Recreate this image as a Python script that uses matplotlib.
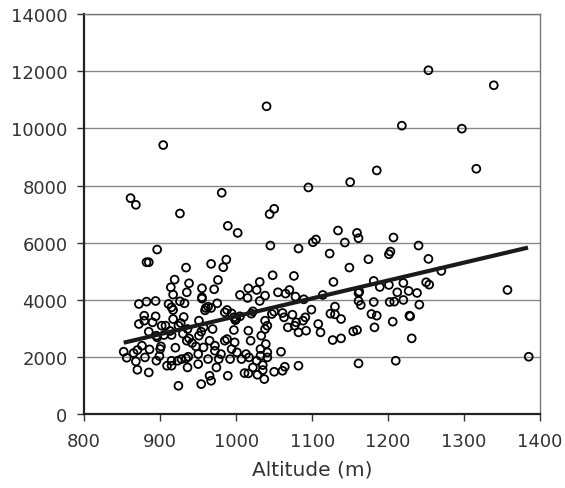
import matplotlib
matplotlib.use('Agg')
import matplotlib.pyplot as plt

# Altitude (m) of each sampled site
altitude = [
    1253, 1339, 1040, 1218, 1297, 904, 1185, 1316, 1150, 1095,
    981, 861, 868, 1050, 1044, 926, 989, 1002, 1134, 1159,
    1161, 1207, 1105, 1101, 1143, 1045, 1240, 896, 1082, 1203,
    1201, 1123, 1174, 1253, 882, 885, 987, 967, 983, 934,
    1149, 1270, 1048, 1076, 1181, 1128, 1031, 976, 919, 938,
    1220, 1250, 1254, 1189, 1201, 914, 955, 971, 1016, 1027,
    1070, 1357, 935, 917, 1005, 1038, 1055, 1065, 1114, 1161,
    1162, 1212, 1227, 1238, 1015, 1078, 1089, 955, 872, 882,
    894, 911, 926, 932, 955, 975, 1031, 1161, 1164, 1181,
    1202, 1208, 1220, 1241, 1130, 915, 917, 960, 963, 967,
    959, 988, 985, 994, 997, 999, 1005, 1020, 1022, 1074,
    1099, 1091, 1124, 1130, 1138, 1178, 1185, 1228, 879, 872,
    879, 894, 890, 902, 907, 917, 931, 927, 924, 936,
    951, 1047, 1050, 1038, 1041, 1038, 1061, 1063, 1068, 1077,
    1079, 1088, 1092, 1082, 1108, 1111, 1127, 1138, 1154, 1159,
    1182, 1206, 1229, 1231, 885, 895, 896, 905, 913, 915,
    930, 935, 938, 942, 951, 954, 965, 972, 985, 988,
    998, 997, 1019, 1033, 1039, 1032, 852, 856, 865, 870,
    876, 868, 870, 880, 886, 885, 895, 901, 899, 909,
    915, 915, 920, 923, 928, 934, 936, 937, 924, 947,
    950, 950, 954, 957, 963, 965, 967, 972, 974, 977,
    980, 989, 992, 994, 1001, 1007, 1011, 1013, 1017, 1022,
    1027, 1028, 1032, 1035, 1035, 1037, 1041, 1041, 1050, 1059,
    1061, 1064, 1082, 1161, 1210, 1385, 1016, 900, 1016, 969,
    957, 1000, 999,
]

# Measured value at each site
value = [
    12037, 11511, 10775, 10097, 9992, 9419, 8531, 8589, 8122, 7935,
    7748, 7561, 7327, 7187, 7000, 7023, 6591, 6345, 6427, 6345,
    6158, 6182, 6112, 6018, 6007, 5901, 5901, 5761, 5796, 5691,
    5597, 5621, 5422, 5434, 5317, 5317, 5410, 5259, 5142, 5130,
    5130, 5013, 4861, 4838, 4663, 4628, 4628, 4698, 4709, 4581,
    4593, 4616, 4534, 4452, 4523, 4441, 4406, 4371, 4406, 4347,
    4347, 4347, 4265, 4184, 4172, 4149, 4265, 4219, 4172, 4242,
    4289, 4265, 4312, 4242, 4067, 4114, 4020, 4090, 3856, 3938,
    3962, 3856, 3950, 3880, 4043, 3880, 3962, 3962, 3821, 3926,
    3926, 3938, 3997, 3833, 3763, 3740, 3646, 3716, 3763, 3716,
    3634, 3646, 3564, 3529, 3389, 3295, 3424, 3517, 3599, 3482,
    3658, 3389, 3517, 3494, 3330, 3506, 3447, 3447, 3447, 3155,
    3272, 3424, 3214, 3097, 3097, 3330, 3401, 3190, 3097, 2980,
    3272, 3506, 3588, 3272, 3097, 2980, 3541, 3389, 3038, 3097,
    3214, 3272, 2922, 2863, 3155, 2863, 2594, 2653, 2898, 2945,
    3038, 3237, 3424, 2653, 2886, 2746, 2688, 2770, 2910, 2770,
    2816, 2571, 2653, 2489, 2746, 2886, 2571, 2396, 2571, 2629,
    2512, 2945, 2571, 2746, 2454, 2279, 2185, 1975, 2139, 2244,
    2396, 1846, 1554, 1987, 2267, 1460, 1870, 2372, 2033, 1695,
    1870, 1695, 2326, 1870, 1928, 1952, 1636, 2010, 993, 2372,
    2103, 1753, 1052, 2337, 1928, 1344, 1169, 2220, 1636, 1928,
    2103, 1344, 1928, 2279, 2162, 1928, 1437, 2103, 1987, 1636,
    1870, 1379, 2045, 1718, 1543, 1227, 2162, 1987, 1484, 2185,
    1519, 1659, 1695, 1776, 1870, 2010, 1426, 2279, 2922, 2980,
    3038, 3350, 3300,
]

# Linear trend line end points
trend_x = [852, 1384]
trend_y = [2500, 5830]

fig = plt.figure(figsize=(5.65, 4.89), dpi=100)
ax = fig.add_axes([0.149, 0.151, 0.807, 0.818])

ax.scatter(altitude, value, s=32, facecolors='none', edgecolors='black',
           linewidths=1.3, zorder=3)
ax.plot(trend_x, trend_y, color='#1a1a1a', linewidth=3, zorder=4,
        solid_capstyle='butt')

ax.set_xlim(800, 1400)
ax.set_ylim(0, 14000)
ax.set_xticks(range(800, 1401, 100))
ax.set_yticks(range(0, 14001, 2000))
ax.tick_params(axis='both', labelsize=13, length=5, width=1, colors='#333333',
               labelcolor='#333333')
ax.tick_params(axis='x', pad=7.5)
ax.tick_params(axis='y', pad=7)
ax.set_xlabel('Altitude (m)', fontsize=14.5, color='#333333', labelpad=7)

ax.grid(axis='y', color='#888888', linewidth=1)
ax.set_axisbelow(True)
for side in ['left', 'bottom']:
    ax.spines[side].set_linewidth(1.6)
    ax.spines[side].set_color('#222222')
for side in ['top', 'right']:
    ax.spines[side].set_linewidth(1)
    ax.spines[side].set_color('#777777')

fig.savefig('out.png', dpi=100)
